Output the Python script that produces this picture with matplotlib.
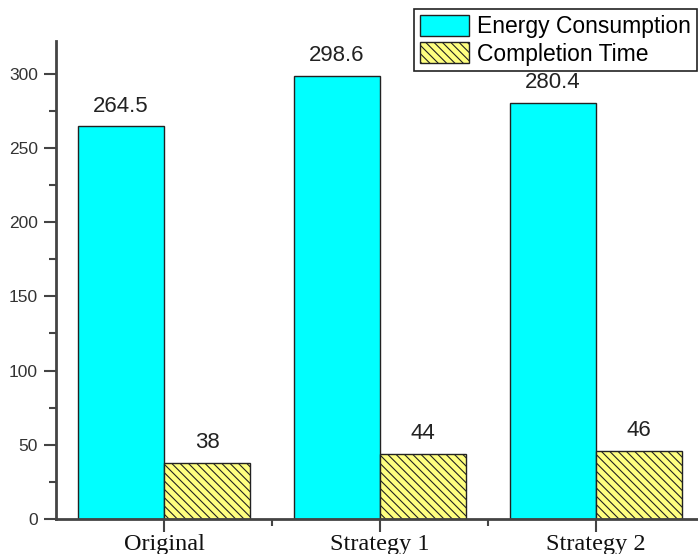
import numpy as np
import matplotlib.pyplot as plt
from matplotlib.ticker import MultipleLocator

categories = ['Original', 'Strategy 1', 'Strategy 2']
energy = [264.5, 298.6, 280.4]
completion = [38, 44, 46]

plt.rcParams['hatch.linewidth'] = 0.8

fig = plt.figure(figsize=(6.98, 5.54), dpi=100)
# axis runs past the right edge of the canvas
ax = fig.add_axes([56 / 698, 35 / 554, 648 / 698, 478 / 554])

x = np.arange(len(categories))
w = 0.4
b1 = ax.bar(x - w / 2, energy, w, color='#00FFFF', edgecolor='#222222',
            linewidth=1, label='Energy Consumption')
b2 = ax.bar(x + w / 2, completion, w, color='#FFFF80', edgecolor='#222222',
            linewidth=1, hatch='\\\\\\\\', label='Completion Time')

for bars, vals in ((b1, energy), (b2, completion)):
    for r, v in zip(bars, vals):
        ax.text(r.get_x() + r.get_width() / 2, v + 6.5, f'{v:g}',
                ha='center', va='bottom', fontsize=16,
                family='Liberation Sans', color='#222222')

ax.set_xlim(-0.5, 2.5)
ax.set_ylim(0, 322)
ax.set_xticks(x)
ax.set_xticklabels(categories, family='Liberation Serif', fontsize=17.5,
                   color='#111111')
ax.set_xticks(x[:-1] + 0.5, minor=True)
ax.yaxis.set_major_locator(MultipleLocator(50))
ax.yaxis.set_minor_locator(MultipleLocator(25))
ax.tick_params(axis='y', which='major', length=9, width=1.5,
               labelsize=12.5, pad=4, color='#444444')
ax.tick_params(axis='y', which='minor', length=5, width=1.5, color='#444444')
ax.tick_params(axis='x', which='major', length=9, width=1.5, pad=2,
               color='#444444')
ax.tick_params(axis='x', which='minor', length=5, width=1.5, color='#444444')
for lab in ax.get_yticklabels():
    lab.set_family('Liberation Sans')
    lab.set_color('#333333')

for s in ('top', 'right'):
    ax.spines[s].set_visible(False)
for s in ('left', 'bottom'):
    ax.spines[s].set_linewidth(2)
    ax.spines[s].set_color('#444444')

leg = ax.legend(loc='upper left', bbox_to_anchor=(414 / 698, 1 - 9 / 554),
                bbox_transform=fig.transFigure,
                prop={'family': 'Liberation Sans', 'size': 16.5},
                frameon=True, fancybox=False, edgecolor='#222222',
                handlelength=2.15, handleheight=1.05, handletextpad=0.36,
                labelspacing=0.17, borderpad=0.25, borderaxespad=0)
leg.get_frame().set_linewidth(1.2)
leg.get_frame().set_alpha(1)

fig.savefig('out.png', dpi=100)
